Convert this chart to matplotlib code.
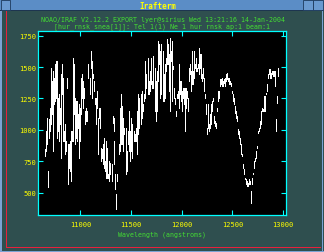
import numpy as np
import matplotlib.pyplot as plt
from matplotlib.patches import Rectangle

# spectrum, one pixel column at a time (low / high of each stroke)
wave = [10650, 10660, 10670, 10680, 10690, 10700, 10710, 10720, 10730, 10740,
        10750, 10760, 10770, 10780, 10790, 10800, 10810, 10820, 10830, 10840,
        10850, 10860, 10870, 10880, 10890, 10900, 10910, 10920, 10930, 10940,
        10950, 10960, 10970, 10980, 10990, 11000, 11010, 11020, 11030, 11040,
        11050, 11060, 11070, 11080, 11090, 11100, 11110, 11120, 11130, 11140,
        11150, 11160, 11170, 11180, 11190, 11200, 11210,
        11225, 11235, 11244, 11254, 11264, 11274, 11287, 11297, 11307, 11317,
        11327, 11336, 11346, 11356, 11366, 11376, 11386, 11396, 11406, 11415,
        11425, 11435, 11445, 11455, 11465, 11475, 11485, 11494, 11504, 11514,
        11524, 11534, 11544, 11554, 11563, 11573, 11583, 11593, 11603, 11613,
        11623, 11633, 11642, 11652, 11662, 11672, 11682, 11692, 11702, 11712,
        11721, 11731, 11741, 11751, 11761, 11771, 11781, 11790, 11800, 11810,
        11818, 11827, 11837, 11846, 11856, 11866, 11876, 11886, 11896, 11906,
        11916, 11925, 11935, 11945, 11955, 11965, 11975, 11985, 11995, 12004,
        12014, 12024, 12034, 12044, 12054, 12064, 12073, 12083, 12093, 12103,
        12113, 12123, 12133, 12143, 12152, 12162, 12172, 12182, 12192, 12202,
        12212, 12222, 12231, 12241, 12251, 12261, 12271, 12281, 12291, 12300,
        12310, 12320, 12330, 12340, 12350, 12360, 12370, 12379, 12389, 12399,
        12409, 12419,
        12430, 12440, 12450, 12459, 12469, 12479, 12489, 12499, 12509, 12519,
        12529, 12538, 12548, 12558, 12568, 12578, 12588, 12598, 12608, 12617,
        12627, 12637, 12647, 12657, 12667, 12677, 12686, 12696, 12706, 12716,
        12726, 12736, 12746, 12756, 12765, 12775, 12785, 12795, 12805, 12815,
        12825, 12835, 12844, 12854, 12864, 12874, 12884, 12894, 12904, 12914,
        12923, 12933, 12943, 12953]
flux_hi = [846, 992, 1098, 674, 1085, 1177, 1495, 1390, 1469, 1416,
           1522, 1549, 1549, 1257, 1284, 1177, 1443, 1522, 1416, 992,
           1045, 912, 1416, 886, 886, 912, 992, 992, 1575, 1522,
           1257, 1231, 1231, 1124, 1204, 1177, 1416, 1443, 1390, 1337,
           1151, 1177, 1151, 1522, 1416, 1628, 1549, 1443, 1390, 1257,
           1257, 1310, 1098, 1177, 1177, 860, 846,
           886, 939, 754, 912, 860, 648, 754, 740, 727, 1111,
           1098, 912, 648, 489, 648, 886, 1177, 1284, 1177, 1191,
           1098, 1019, 1019, 833, 992, 1151, 992, 912, 1098, 1045,
           992, 966, 1019, 1151, 1098, 1284, 1257, 1284, 1310, 1204,
           1284, 1549, 1522, 1443, 1575, 1390, 1469, 1575, 1390, 1588,
           1496, 1496, 1390, 1469, 1708, 1681, 1628, 1443, 1681, 1628,
           1628, 1443, 1522, 1575, 1721, 1681, 1602, 1734, 1628, 1708,
           1509, 1337, 1257, 1151, 1284, 1310, 1522, 1390, 1390, 1310,
           1337, 1337, 1337, 1337, 1310, 1257, 1496, 1522, 1469, 1628,
           1469, 1628, 1522, 1575, 1496, 1522, 1655, 1602, 1602, 1443,
           1496, 1416, 1284, 1204, 1019, 1204, 1045, 1124, 1204, 1231,
           1257, 1111, 1072, 1058, 1177, 1310, 1310, 1403, 1403, 1416,
           1390, 1403,
           1416, 1443, 1456, 1416, 1416, 1390, 1376, 1310, 1284, 1257,
           1191, 1151, 1111, 1005, 992, 939, 886, 807, 727, 687,
           621, 608, 594, 581, 608, 594, 515, 621, 661, 754,
           780, 833, 873, 992, 1019, 1072, 1151, 1177, 1164, 1270,
           1270, 1297, 1363, 1443, 1482, 1482, 1456, 1469, 1469, 1469,
           1469, 1085, 1270, 1496]
flux_lo = [793, 833, 886, 542, 939, 992, 1045, 1124, 833, 1204,
           1231, 1257, 939, 992, 912, 1045, 780, 1284, 912, 912,
           807, 833, 1337, 568, 700, 674, 594, 912, 912, 1124,
           886, 939, 912, 1019, 780, 912, 1124, 1257, 1177, 1257,
           1045, 1072, 1072, 1416, 1284, 1496, 1257, 1416, 1310, 1204,
           1045, 1177, 807, 1098, 1019, 754, 780,
           727, 700, 674, 621, 621, 621, 594, 648, 594, 1058,
           992, 727, 528, 369, 594, 807, 833, 886, 886, 939,
           833, 966, 648, 674, 886, 833, 754, 807, 833, 780,
           912, 912, 912, 807, 939, 966, 1019, 1045, 1098, 1151,
           1231, 1257, 1337, 1337, 1284, 1284, 1310, 1363, 1337, 1337,
           1363, 1151, 1072, 1151, 1390, 1522, 1390, 1257, 1284, 1310,
           1231, 1231, 1257, 1469, 1522, 1522, 1310, 1151, 1549, 1231,
           1482, 1257, 1204, 1111, 1257, 1257, 1177, 1284, 1231, 1151,
           1257, 1204, 992, 1177, 1257, 1151, 1390, 1443, 1310, 1363,
           1363, 1416, 1496, 1469, 1469, 1496, 1443, 1496, 1416, 1390,
           1416, 1310, 1257, 1124, 966, 1019, 992, 1019, 1045, 1151,
           1231, 1058, 1032, 1019, 1151, 1231, 1257, 1350, 1363, 1350,
           1350, 1376,
           1350, 1390, 1403, 1390, 1363, 1363, 1350, 1297, 1231, 1204,
           1138, 1098, 1072, 966, 939, 886, 807, 793, 700, 648,
           608, 568, 555, 555, 568, 568, 422, 568, 648, 700,
           754, 780, 860, 979, 992, 1019, 1045, 1151, 1151, 1151,
           1151, 1284, 1310, 1416, 1443, 1416, 1416, 1443, 1429, 1429,
           1350, 992, 1217, 1429]

xticks = [11000, 11500, 12000, 12500, 13000]
yticks = [500, 750, 1000, 1250, 1500, 1750]

title1 = "NOAO/IRAF V2.12.2 EXPORT lyer@sirius Wed 13:21:16 14-Jan-2004"
title2 = "[hur_rnsk_snea[1]]: Tel 1(1) Ne 1 hur rnsk ap:1 beam:1"
xlabel = "Wavelength (angstroms)"

W, H = 324, 253
MONO = 'DejaVu Sans Mono'
GREEN = '#44dd33'
CHROME = '#7aa3d4'
RED = '#e8203c'

fig = plt.figure(figsize=(W / 100, H / 100), dpi=100, facecolor='#2f4f4f')

# window chrome drawn in pixel coordinates
bg = fig.add_axes([0, 0, 1, 1], zorder=0)
bg.set_xlim(0, W)
bg.set_ylim(H, 0)
bg.axis('off')
bg.add_patch(Rectangle((0, 0), W, 11, color='#5b8dc6', lw=0))
bg.add_patch(Rectangle((0, 11), W, 1, color='#1d3550', lw=0))
for bx in [0.5, 303, 313]:
    bg.add_patch(Rectangle((bx, 1), 9.5, 9.5, fc='#6a9ad0', ec='#1d3a5c', lw=0.6))
bg.text(158, 6, "Irafterm", color='#ffff00', fontsize=5.5, fontweight='bold',
        family=MONO, ha='center', va='center')
bg.add_patch(Rectangle((0, 12), 1.5, H - 12, color=CHROME, lw=0))
bg.add_patch(Rectangle((321.5, 12), 1, H - 12, color=CHROME, lw=0))
bg.add_patch(Rectangle((0, 251.5), W, 1.5, color=CHROME, lw=0))
bg.add_patch(Rectangle((6, 12), 1, 237, color=RED, lw=0))
bg.add_patch(Rectangle((6, 248), 315, 1, color=RED, lw=0))

bg.text(163, 20, title1, color=GREEN, fontsize=4.8, family=MONO,
        ha='center', va='center')
bg.text(162.5, 26.7, title2, color=GREEN, fontsize=4.8, family=MONO,
        ha='center', va='center')
bg.text(161.5, 235, xlabel, color=GREEN, fontsize=4.8, family=MONO,
        ha='center', va='center')

ax = fig.add_axes([38 / W, 1 - 216 / H, (285.5 - 38) / W, (216 - 32) / H], zorder=1)
ax.set_facecolor('black')
ax.vlines(wave, flux_lo, flux_hi, color='white', lw=0.6, antialiased=False)
ax.set_xlim(10582, 13023)
ax.set_ylim(323, 1787)
ax.set_xticks(xticks)
ax.set_yticks(yticks)
for s in ax.spines.values():
    s.set_color('#00ffff')
    s.set_linewidth(0.9)
ax.tick_params(direction='in', length=3.6, width=0.8, color='#00ffff',
               top=True, right=True, labelcolor='#ffff00', labelsize=5)
ax.tick_params(axis='x', pad=4)
ax.tick_params(axis='y', pad=1.5)
for lab in ax.get_xticklabels() + ax.get_yticklabels():
    lab.set_family(MONO)

fig.savefig('out.png', dpi=100, facecolor=fig.get_facecolor())
